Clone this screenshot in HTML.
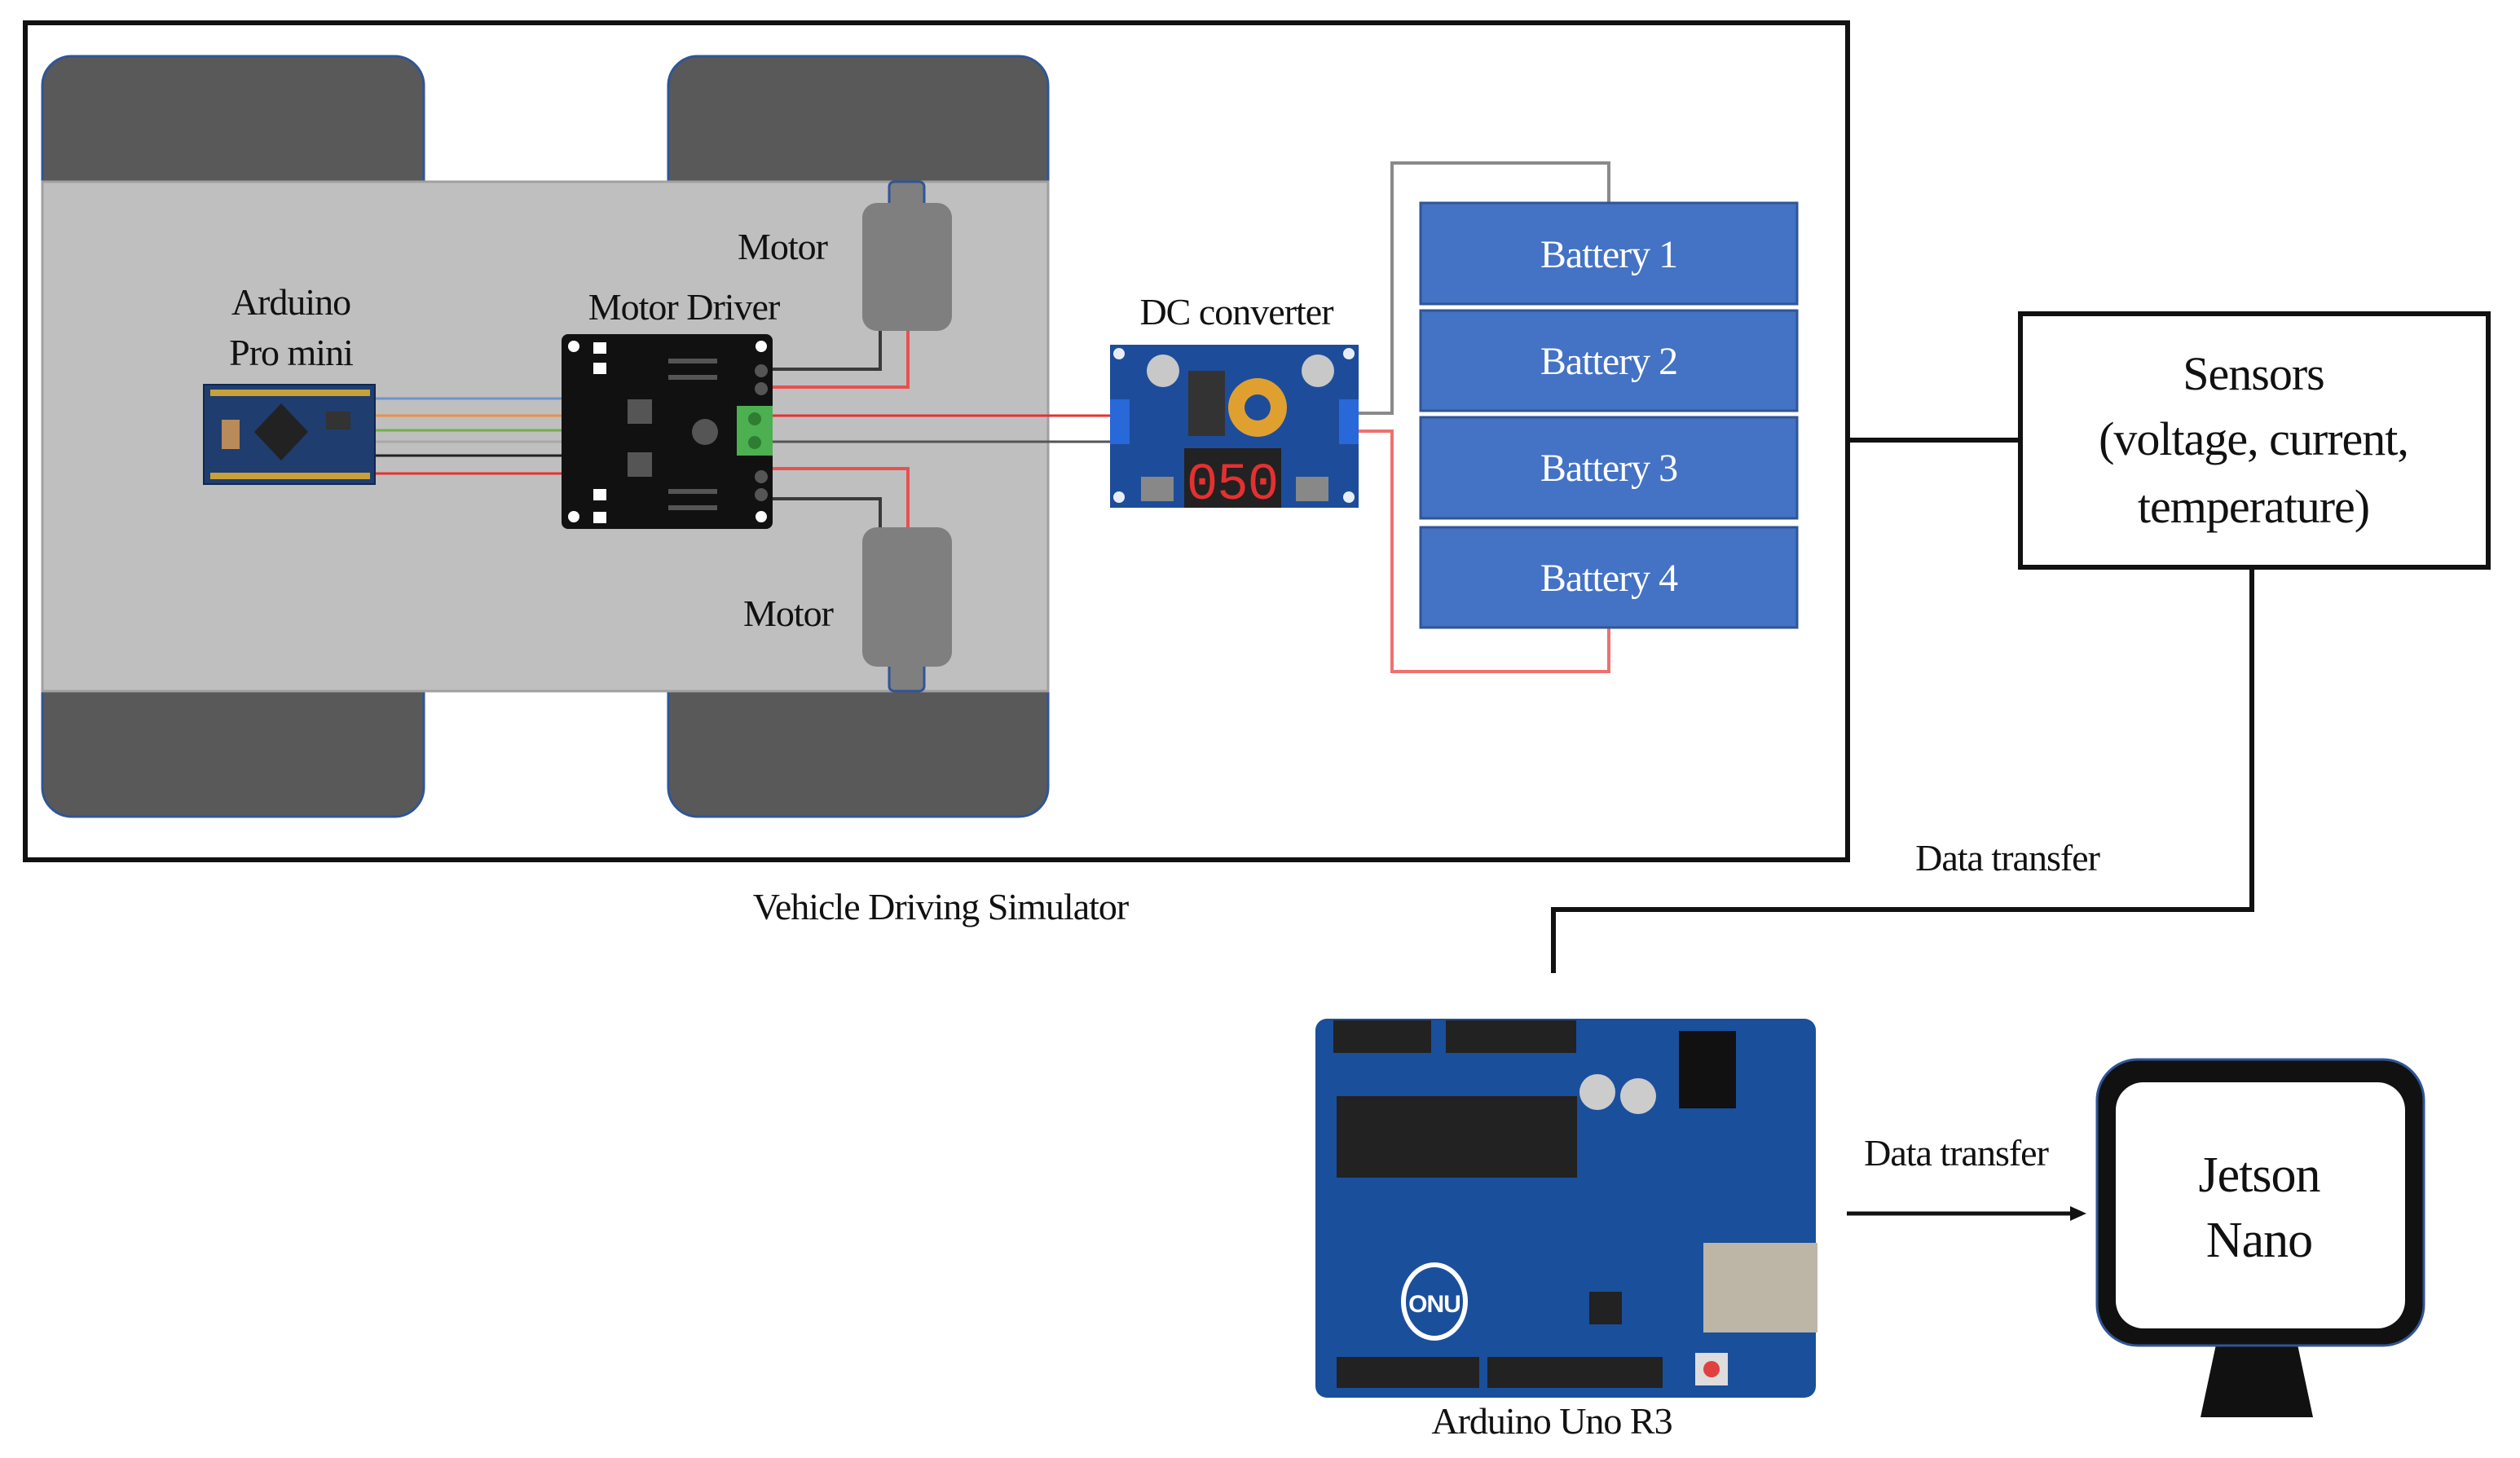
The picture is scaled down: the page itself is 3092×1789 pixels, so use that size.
<!DOCTYPE html>
<html><head><meta charset="utf-8"><style>
html,body{margin:0;padding:0;background:#fff;}
svg{display:block;}
text{font-family:"Liberation Serif",serif;letter-spacing:-1px;}
</style></head><body>
<svg width="3092" height="1789" viewBox="0 0 3092 1789" xmlns="http://www.w3.org/2000/svg">
<rect width="3092" height="1789" fill="#fff"/>
<rect x="31" y="28" width="2236" height="1027" fill="none" stroke="#111" stroke-width="6"/>
<g fill="#595959" stroke="#2f5597" stroke-width="3">
<rect x="52" y="69" width="468" height="200" rx="36"/>
<rect x="820" y="69" width="466" height="200" rx="36"/>
<rect x="52" y="800" width="468" height="202" rx="36"/>
<rect x="820" y="800" width="466" height="202" rx="36"/>
</g>
<rect x="52" y="223" width="1234" height="625" fill="#bfbfbf" stroke="#a0a0a0" stroke-width="3"/>
<rect x="1091" y="223" width="43" height="40" rx="6" fill="#7f7f7f" stroke="#2f5597" stroke-width="3"/>
<rect x="1091" y="805" width="43" height="43" rx="6" fill="#7f7f7f" stroke="#2f5597" stroke-width="3"/>
<rect x="1058" y="249" width="110" height="157" rx="18" fill="#7f7f7f"/>
<rect x="1058" y="647" width="110" height="171" rx="18" fill="#7f7f7f"/>
<g stroke-width="3">
<line x1="460" y1="489" x2="690" y2="489" stroke="#6f93cc"/>
<line x1="460" y1="510" x2="690" y2="510" stroke="#e8904a"/>
<line x1="460" y1="528" x2="690" y2="528" stroke="#6fb04a"/>
<line x1="460" y1="542" x2="690" y2="542" stroke="#a8a8a8"/>
<line x1="460" y1="559" x2="690" y2="559" stroke="#222"/>
<line x1="460" y1="581" x2="690" y2="581" stroke="#e83030"/>
</g>
<g fill="none" stroke-width="4">
<polyline points="948,453 1080,453 1080,406" stroke="#3a3a3a"/>
<polyline points="948,475 1114,475 1114,406" stroke="#e85050"/>
<polyline points="948,575 1114,575 1114,647" stroke="#e85050"/>
<polyline points="948,612 1080,612 1080,647" stroke="#3a3a3a"/>
<line x1="948" y1="510" x2="1364" y2="510" stroke="#e83030" stroke-width="3"/>
<line x1="948" y1="542" x2="1364" y2="542" stroke="#555" stroke-width="3"/>
</g>
<rect x="250" y="472" width="210" height="122" fill="#1f3d6e" stroke="#0f2850" stroke-width="2"/>
<g fill="#c9a13a">
<rect x="258" y="478" width="196" height="8"/>
<rect x="258" y="580" width="196" height="8"/>
</g>
<rect x="272" y="515" width="22" height="36" fill="#b98a5a"/>
<polygon points="345,495 378,530 345,565 312,530" fill="#222"/>
<rect x="400" y="505" width="30" height="22" fill="#333"/>
<rect x="689" y="410" width="259" height="239" rx="8" fill="#111"/>
<g fill="#fff">
<circle cx="704" cy="425" r="7"/><circle cx="934" cy="425" r="7"/>
<circle cx="704" cy="634" r="7"/><circle cx="934" cy="634" r="7"/>
<rect x="728" y="420" width="16" height="14"/><rect x="728" y="445" width="16" height="14"/>
<rect x="728" y="600" width="16" height="14"/><rect x="728" y="628" width="16" height="14"/>
</g>
<g fill="#555">
<circle cx="934" cy="455" r="8"/><circle cx="934" cy="477" r="8"/>
<circle cx="934" cy="585" r="8"/><circle cx="934" cy="607" r="8"/>
<rect x="770" y="490" width="30" height="30"/><rect x="770" y="555" width="30" height="30"/>
<circle cx="865" cy="530" r="16"/>
<rect x="820" y="440" width="60" height="6"/><rect x="820" y="460" width="60" height="6"/>
<rect x="820" y="600" width="60" height="6"/><rect x="820" y="620" width="60" height="6"/>
</g>
<rect x="904" y="498" width="44" height="61" fill="#4caf50"/>
<circle cx="926" cy="514" r="8" fill="#2e7d32"/><circle cx="926" cy="543" r="8" fill="#2e7d32"/>
<rect x="1362" y="423" width="305" height="200" fill="#1d4d9a"/>
<rect x="1362" y="490" width="24" height="55" fill="#2868d8"/>
<rect x="1643" y="490" width="24" height="55" fill="#2868d8"/>
<g fill="#e8eef8"><circle cx="1373" cy="434" r="7"/><circle cx="1655" cy="434" r="7"/><circle cx="1373" cy="610" r="7"/><circle cx="1655" cy="610" r="7"/></g>
<circle cx="1427" cy="455" r="20" fill="#c8c8c8"/>
<circle cx="1617" cy="455" r="20" fill="#c8c8c8"/>
<rect x="1458" y="455" width="45" height="80" fill="#333"/>
<circle cx="1543" cy="500" r="36" fill="#e0a030"/>
<circle cx="1543" cy="500" r="16" fill="#1d4d9a"/>
<rect x="1453" y="550" width="119" height="73" fill="#222"/>
<text x="1512" y="612" text-anchor="middle" font-size="64" fill="#e53030" style="font-family:'Liberation Mono',monospace">050</text>
<rect x="1400" y="585" width="40" height="30" fill="#888"/>
<rect x="1590" y="585" width="40" height="30" fill="#888"/>
<polyline points="1667,507 1708,507 1708,200 1974,200 1974,249" fill="none" stroke="#8a8a8a" stroke-width="4"/>
<polyline points="1667,529 1708,529 1708,824 1974,824 1974,770" fill="none" stroke="#f07070" stroke-width="4"/>
<g fill="#4472c4" stroke="#2f5597" stroke-width="3">
<rect x="1743" y="249" width="462" height="124"/>
<rect x="1743" y="381" width="462" height="123"/>
<rect x="1743" y="512" width="462" height="124"/>
<rect x="1743" y="647" width="462" height="123"/>
</g>
<g fill="#fff" font-size="48" text-anchor="middle" style="letter-spacing:-2px">
<text x="1974" y="328">Battery 1</text>
<text x="1974" y="459">Battery 2</text>
<text x="1974" y="590">Battery 3</text>
<text x="1974" y="725">Battery 4</text>
</g>
<line x1="2267" y1="540" x2="2477" y2="540" stroke="#111" stroke-width="6"/>
<rect x="2479" y="385" width="574" height="311" fill="#fff" stroke="#111" stroke-width="6"/>
<g font-size="58" text-anchor="middle" fill="#111" style="letter-spacing:-2px">
<text x="2765" y="478">Sensors</text>
<text x="2765" y="558">(voltage, current,</text>
<text x="2765" y="641">temperature)</text>
</g>
<polyline points="2763,697 2763,1116 1906,1116 1906,1194" fill="none" stroke="#111" stroke-width="6"/>
<g font-size="46" fill="#111" text-anchor="middle">
<text x="960" y="318">Motor</text>
<text x="967" y="768">Motor</text>
<text x="357" y="386">Arduino</text>
<text x="357" y="448">Pro mini</text>
<text x="839" y="392">Motor Driver</text>
<text x="1517" y="398">DC converter</text>
<text x="2463" y="1068">Data transfer</text>
<text x="1154" y="1128">Vehicle Driving Simulator</text>
<text x="2400" y="1430">Data transfer</text>
<text x="1904" y="1759">Arduino Uno R3</text>
</g>
<rect x="1614" y="1250" width="614" height="465" rx="14" fill="#1a4f9c"/>
<rect x="1636" y="1252" width="120" height="40" fill="#222"/>
<rect x="1774" y="1252" width="160" height="40" fill="#222"/>
<rect x="1640" y="1345" width="295" height="100" fill="#222"/>
<rect x="2060" y="1265" width="70" height="95" fill="#111"/>
<circle cx="1960" cy="1340" r="22" fill="#ccc"/><circle cx="2010" cy="1345" r="22" fill="#ccc"/>
<rect x="2090" y="1525" width="140" height="110" fill="#bdb5a6"/>
<rect x="1640" y="1665" width="175" height="38" fill="#222"/>
<rect x="1825" y="1665" width="215" height="38" fill="#222"/>
<ellipse cx="1760" cy="1597" rx="38" ry="45" fill="none" stroke="#fff" stroke-width="6"/>
<text x="1760" y="1610" text-anchor="middle" font-size="30" fill="#fff" style="font-family:'Liberation Sans',sans-serif;font-weight:bold">ONU</text>
<rect x="1950" y="1585" width="40" height="40" fill="#222"/>
<rect x="2080" y="1660" width="40" height="40" fill="#ddd"/><circle cx="2100" cy="1680" r="10" fill="#e04040"/>
<line x1="2266" y1="1489" x2="2545" y2="1489" stroke="#111" stroke-width="5"/>
<polygon points="2560,1489 2540,1480 2540,1498" fill="#111"/>
<polygon points="2720,1645 2818,1645 2838,1739 2700,1739" fill="#111"/>
<rect x="2573" y="1300" width="401" height="351" rx="50" fill="#111" stroke="#2f5597" stroke-width="3"/>
<rect x="2596" y="1328" width="355" height="302" rx="34" fill="#fff"/>
<g font-size="62" text-anchor="middle" fill="#111" style="letter-spacing:-2px">
<text x="2772" y="1462">Jetson</text>
<text x="2772" y="1542">Nano</text>
</g>
</svg>
</body></html>
